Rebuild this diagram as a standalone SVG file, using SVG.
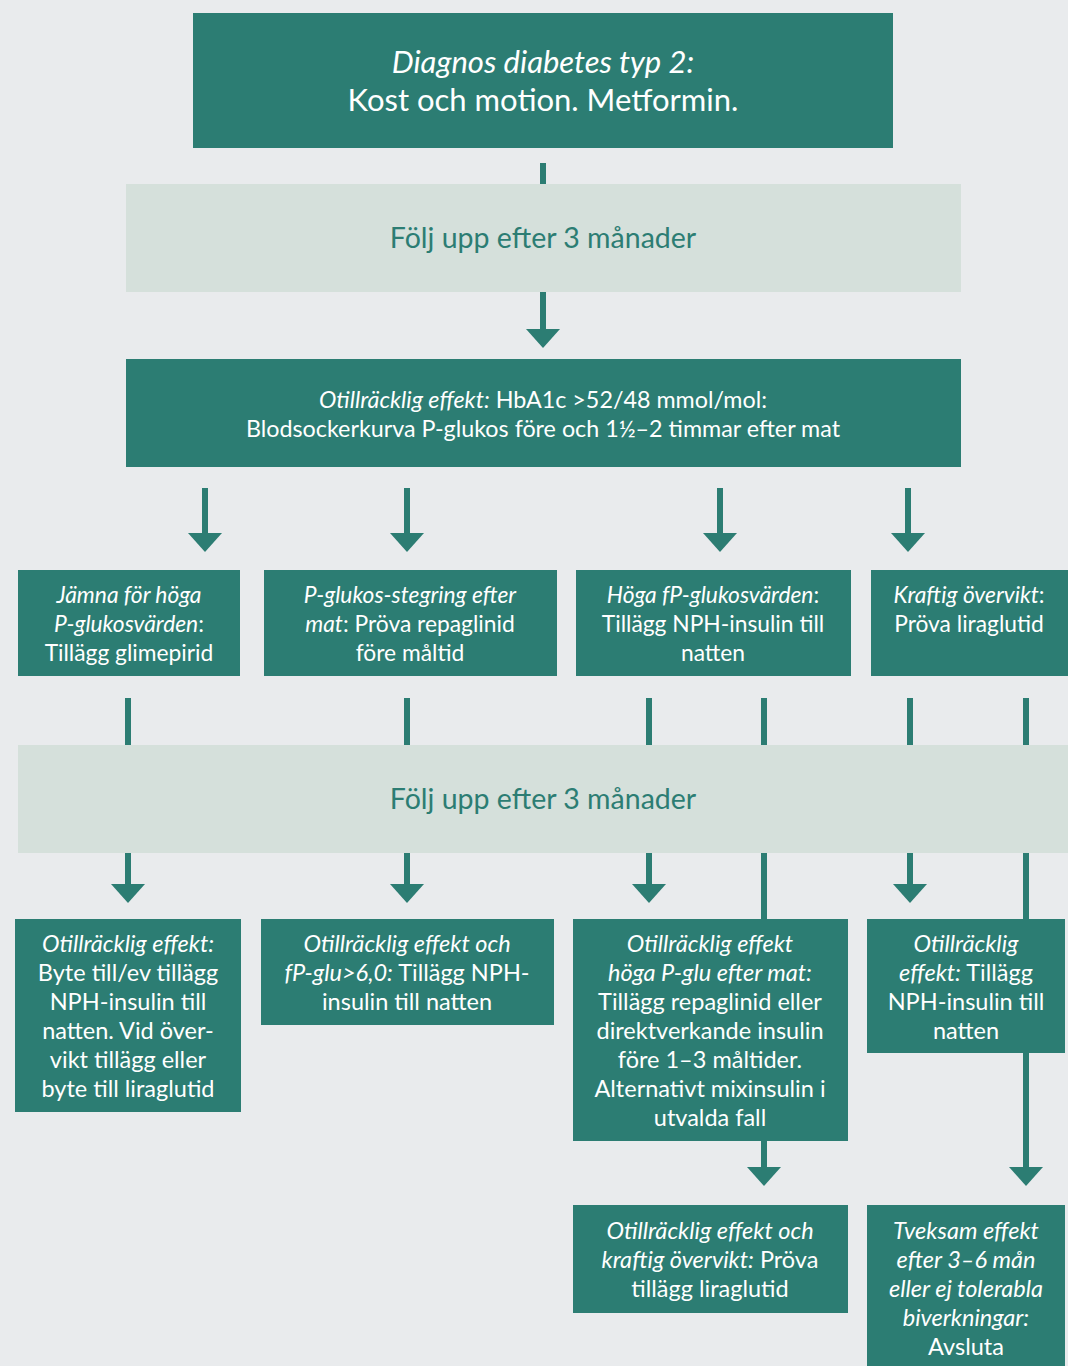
<svg xmlns="http://www.w3.org/2000/svg" width="1068" height="1366" viewBox="0 0 1068 1366">
<style>
.dk{fill:#2c7d73}
.lt{fill:#d5e0db}
.w{fill:#ffffff;font-family:Lato,"Open Sans",sans-serif;text-anchor:middle}
.g{fill:#2c7d73;font-family:Lato,"Open Sans",sans-serif;text-anchor:middle;font-size:28.5px}
.s{font-size:22.8px}
.b{font-size:23.5px}
.i{font-style:italic}
.c{stroke:#2c7d73;stroke-width:6;fill:none}
</style>
<defs>
<marker id="ah" markerUnits="userSpaceOnUse" markerWidth="20" markerHeight="34" refX="0" refY="17" orient="auto" viewBox="0 0 20 34" overflow="visible">
<path d="M0,0 L19,17 L0,34 Z" fill="#2c7d73"/>
</marker>
</defs>
<rect width="1068" height="1366" fill="#e9ebed"/>
<g id="connectors">
<path class="c" d="M543,163 V184"/>
<path class="c" d="M543,292 V329" marker-end="url(#ah)"/>
<path class="c" d="M205,488 V533" marker-end="url(#ah)"/>
<path class="c" d="M407,488 V533" marker-end="url(#ah)"/>
<path class="c" d="M720,488 V533" marker-end="url(#ah)"/>
<path class="c" d="M908,488 V533" marker-end="url(#ah)"/>
<path class="c" d="M128,698 V745"/>
<path class="c" d="M407,698 V745"/>
<path class="c" d="M649,698 V745"/>
<path class="c" d="M764,698 V745"/>
<path class="c" d="M910,698 V745"/>
<path class="c" d="M1026,698 V745"/>
<path class="c" d="M128,853 V884" marker-end="url(#ah)"/>
<path class="c" d="M407,853 V884" marker-end="url(#ah)"/>
<path class="c" d="M649,853 V884" marker-end="url(#ah)"/>
<path class="c" d="M910,853 V884" marker-end="url(#ah)"/>
<path class="c" d="M764,853 V919"/>
<path class="c" d="M1026,853 V919"/>
<path class="c" d="M764,1141 V1167" marker-end="url(#ah)"/>
<path class="c" d="M1026,1053 V1167" marker-end="url(#ah)"/>
</g>
<g id="n-top">
<rect class="dk" x="193" y="13" width="700" height="135"/>
<text class="w" font-size="31"><tspan class="i" x="543" y="73">Diagnos diabetes typ 2:</tspan><tspan x="543" y="111">Kost och motion. Metformin.</tspan></text>
</g>
<g id="n-follow1">
<rect class="lt" x="126" y="184" width="835" height="108"/>
<text class="g" x="543" y="248">Följ upp efter 3 månader</text>
</g>
<g id="n-otill">
<rect class="dk" x="126" y="359" width="835" height="108"/>
<text class="w" font-size="23.3"><tspan x="543" y="408"><tspan class="i">Otillräcklig effekt:</tspan> HbA1c &gt;52/48 mmol/mol:</tspan><tspan x="543" y="437">Blodsockerkurva P-glukos före och 1½–2 timmar efter mat</tspan></text>
</g>
<g id="n-a">
<rect class="dk" x="18" y="570" width="222" height="106"/>
<text class="w s"><tspan class="i" x="129" y="603">Jämna för höga</tspan><tspan x="129" y="632"><tspan class="i">P-glukosvärden</tspan>:</tspan><tspan x="129" y="661">Tillägg glimepirid</tspan></text>
</g>
<g id="n-b">
<rect class="dk" x="264" y="570" width="293" height="106"/>
<text class="w s"><tspan class="i" x="410" y="603">P-glukos-stegring efter</tspan><tspan x="410" y="632"><tspan class="i">mat</tspan>: Pröva repaglinid</tspan><tspan x="410" y="661">före måltid</tspan></text>
</g>
<g id="n-c">
<rect class="dk" x="576" y="570" width="275" height="106"/>
<text class="w s"><tspan x="713" y="603"><tspan class="i">Höga fP-glukosvärden</tspan>:</tspan><tspan x="713" y="632">Tillägg NPH-insulin till</tspan><tspan x="713" y="661">natten</tspan></text>
</g>
<g id="n-d">
<rect class="dk" x="871" y="570" width="197" height="106"/>
<text class="w s"><tspan x="969" y="603"><tspan class="i">Kraftig övervikt</tspan>:</tspan><tspan x="969" y="632">Pröva liraglutid</tspan></text>
</g>
<g id="n-follow2">
<rect class="lt" x="18" y="745" width="1050" height="108"/>
<text class="g" x="543" y="809">Följ upp efter 3 månader</text>
</g>
<g id="n-e">
<rect class="dk" x="15" y="919" width="226" height="193"/>
<text class="w b"><tspan class="i" x="128" y="952">Otillräcklig effekt:</tspan><tspan x="128" y="981">Byte till/ev tillägg</tspan><tspan x="128" y="1010">NPH-insulin till</tspan><tspan x="128" y="1039">natten. Vid över-</tspan><tspan x="128" y="1068">vikt tillägg eller</tspan><tspan x="128" y="1097">byte till liraglutid</tspan></text>
</g>
<g id="n-f">
<rect class="dk" x="261" y="919" width="293" height="106"/>
<text class="w b"><tspan class="i" x="407" y="952">Otillräcklig effekt och</tspan><tspan x="407" y="981"><tspan class="i">fP-glu&gt;6,0:</tspan> Tillägg NPH-</tspan><tspan x="407" y="1010">insulin till natten</tspan></text>
</g>
<g id="n-g">
<rect class="dk" x="573" y="919" width="275" height="222"/>
<text class="w b"><tspan class="i" x="710" y="952">Otillräcklig effekt</tspan><tspan class="i" x="710" y="981">höga P-glu efter mat:</tspan><tspan x="710" y="1010">Tillägg repaglinid eller</tspan><tspan x="710" y="1039">direktverkande insulin</tspan><tspan x="710" y="1068">före 1–3 måltider.</tspan><tspan x="710" y="1097">Alternativt mixinsulin i</tspan><tspan x="710" y="1126">utvalda fall</tspan></text>
</g>
<g id="n-h">
<rect class="dk" x="867" y="919" width="198" height="134"/>
<text class="w b"><tspan class="i" x="966" y="952">Otillräcklig</tspan><tspan x="966" y="981"><tspan class="i">effekt:</tspan> Tillägg</tspan><tspan x="966" y="1010">NPH-insulin till</tspan><tspan x="966" y="1039">natten</tspan></text>
</g>
<g id="n-i">
<rect class="dk" x="573" y="1205" width="275" height="108"/>
<text class="w b"><tspan class="i" x="710" y="1239">Otillräcklig effekt och</tspan><tspan x="710" y="1268"><tspan class="i">kraftig övervikt:</tspan> Pröva</tspan><tspan x="710" y="1297">tillägg liraglutid</tspan></text>
</g>
<g id="n-j">
<rect class="dk" x="867" y="1205" width="198" height="161"/>
<text class="w b"><tspan class="i" x="966" y="1239">Tveksam effekt</tspan><tspan class="i" x="966" y="1268">efter 3–6 mån</tspan><tspan class="i" x="966" y="1297">eller ej tolerabla</tspan><tspan class="i" x="966" y="1326">biverkningar:</tspan><tspan x="966" y="1355">Avsluta</tspan></text>
</g>
</svg>
